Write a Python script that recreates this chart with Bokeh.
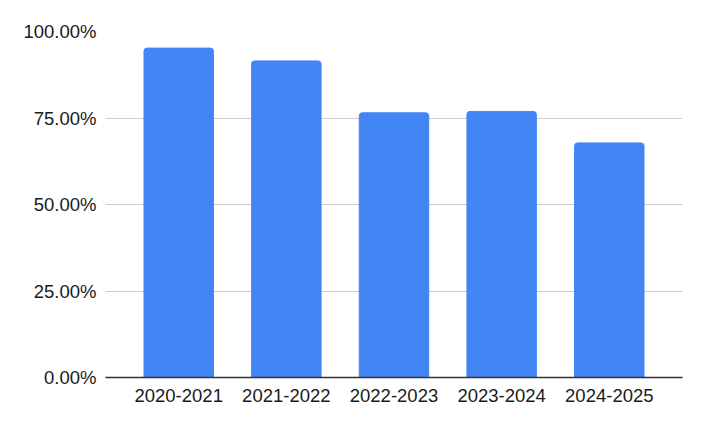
from bokeh.plotting import figure
from bokeh.models import FactorRange, NumeralTickFormatter, FixedTicker, ColumnDataSource
from bokeh.embed import file_html
from bokeh.resources import INLINE

years = ["2020-2021", "2021-2022", "2022-2023", "2023-2024", "2024-2025"]
rates = [0.952, 0.915, 0.765, 0.769, 0.678]
y_ticks = [0, 0.25, 0.5, 0.75, 1.0]

src = ColumnDataSource(data=dict(x=years, y=rates))

p = figure(x_range=FactorRange(factors=years, range_padding=0.18, range_padding_units="absolute"),
           y_range=(0, 1), width=696, height=419, output_backend="svg",
           toolbar_location=None, min_border_left=105, min_border_right=14,
           min_border_top=31, min_border_bottom=42)

p.vbar(x="x", top="y", width=0.645, source=src, color="#4285F4",
       border_radius=(3, 3, 0, 0))

p.outline_line_color = None
p.xgrid.grid_line_color = None
p.ygrid.grid_line_color = "#cccccc"
p.ygrid.grid_line_width = 1

p.yaxis.ticker = FixedTicker(ticks=y_ticks)
p.yaxis.formatter = NumeralTickFormatter(format="0.00%")
p.yaxis.axis_line_color = None
p.yaxis.major_tick_line_color = None
p.yaxis.minor_tick_line_color = None
p.yaxis.major_tick_out = 0
p.yaxis.major_tick_in = 0
p.yaxis.major_label_standoff = 9

p.xaxis.axis_line_color = "#333333"
p.xaxis.axis_line_width = 1.5
p.xaxis.major_tick_line_color = None
p.xaxis.minor_tick_line_color = None
p.xaxis.major_tick_out = 0
p.xaxis.major_tick_in = 0
p.xaxis.major_label_standoff = 11

for ax in (p.xaxis, p.yaxis):
    ax.major_label_text_font = "Liberation Sans"
    ax.major_label_text_font_size = "18.5px"
    ax.major_label_text_color = "#1a1a1a"

open("out.html", "w").write(file_html(p, INLINE))
